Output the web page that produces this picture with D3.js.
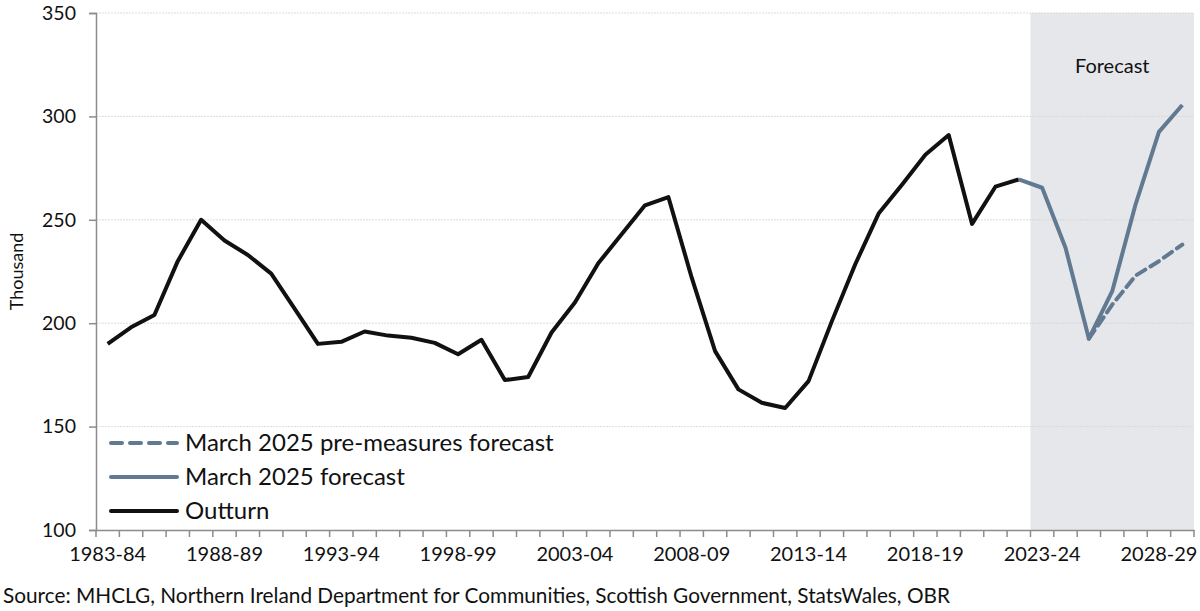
<!DOCTYPE html>
<html>
<head>
<meta charset="utf-8">
<script src="https://cdn.jsdelivr.net/npm/d3@7"></script>
<style>
  body { margin: 0; background: #fff; }
  text { font-family: Lato, "Noto Sans", sans-serif; fill: #111; }
</style>
</head>
<body>
<script>
const years = ["1983-84","1984-85","1985-86","1986-87","1987-88","1988-89","1989-90","1990-91",
  "1991-92","1992-93","1993-94","1994-95","1995-96","1996-97","1997-98","1998-99","1999-00",
  "2000-01","2001-02","2002-03","2003-04","2004-05","2005-06","2006-07","2007-08","2008-09",
  "2009-10","2010-11","2011-12","2012-13","2013-14","2014-15","2015-16","2016-17","2017-18",
  "2018-19","2019-20","2020-21","2021-22","2022-23","2023-24","2024-25","2025-26","2026-27",
  "2027-28","2028-29","2029-30"];
const tickLabels = ["1983-84","1988-89","1993-94","1998-99","2003-04","2008-09","2013-14","2018-19","2023-24","2028-29"];
const yTicks = [100, 150, 200, 250, 300, 350];

// outturn 1983-84 to 2022-23
const outturn = [190,198,204,230,250,240,233,224,207,190,191,196,194,193,190.5,185,192,172.5,174,195.5,
  210,229,243,257,261,222,186.5,168,161.5,159,172,201,228.5,253,267,281.5,291,248,266,269.5];
// forecasts 2022-23 to 2029-30
const forecastYears = ["2022-23","2023-24","2024-25","2025-26","2026-27","2027-28","2028-29","2029-30"];
const forecast = [269.5,265.5,236.5,192.5,215.5,257.5,292.5,305.5];
const preMeasures = [269.5,265.5,236.5,192.5,209,223,230,238];
const forecastStart = "2023-24";

const width = 1200, height = 611;
const mLeft = 96, mRight = 1194, mTop = 13, mBottom = 530;
const blue = "#627a91";

const svg = d3.select("body").append("svg")
  .attr("width", width).attr("height", height);

const x = d3.scaleBand().domain(years).range([mLeft, mRight]);
const y = d3.scaleLinear().domain([100, 350]).range([mBottom, mTop]);
const cx = d => x(d) + x.bandwidth() / 2;

// forecast shading
svg.append("rect")
  .attr("x", x(forecastStart)).attr("y", mTop)
  .attr("width", mRight - x(forecastStart)).attr("height", mBottom - mTop)
  .attr("fill", "#e6e7eb");

// gridlines
svg.append("g").selectAll("line")
  .data(yTicks.filter(d => d > 100))
  .join("line")
  .attr("x1", mLeft).attr("x2", mRight)
  .attr("y1", d => y(d)).attr("y2", d => y(d))
  .attr("stroke", "#d4d4d4").attr("stroke-width", 0.8)
  .attr("stroke-dasharray", "2,1");

svg.append("text")
  .attr("x", x(forecastStart) + (mRight - x(forecastStart)) / 2).attr("y", 73)
  .attr("text-anchor", "middle").attr("font-size", 20)
  .text("Forecast");

// axes
const yAxis = svg.append("g")
  .attr("transform", `translate(${mLeft},0)`)
  .call(d3.axisLeft(y).tickValues(yTicks).tickSize(7).tickPadding(13));
yAxis.select(".domain").attr("stroke", "#8c8c8c").attr("stroke-width", 1.5);
yAxis.selectAll(".tick line").attr("stroke", "#8c8c8c").attr("stroke-width", 1.5);
yAxis.selectAll(".tick text").attr("font-size", 19.5).attr("font-family", "Lato, sans-serif").attr("fill", "#111");

const xAxis = svg.append("g")
  .attr("transform", `translate(0,${mBottom})`)
  .call(d3.axisBottom(x).tickSize(0).tickFormat(d => tickLabels.includes(d) ? d : ""));
xAxis.select(".domain").attr("stroke", "#8c8c8c").attr("stroke-width", 1.5);
xAxis.selectAll(".tick text").attr("font-size", 20).attr("font-family", "Lato, sans-serif")
  .attr("fill", "#111").attr("dy", "1.4em");
// tick marks on category boundaries
svg.append("g").selectAll("line")
  .data(years.map(d => x(d)).concat([mRight]))
  .join("line")
  .attr("x1", d => d).attr("x2", d => d)
  .attr("y1", mBottom).attr("y2", mBottom + 7)
  .attr("stroke", "#8c8c8c").attr("stroke-width", 1.5);

svg.append("text")
  .attr("transform", `translate(23,${(mTop + mBottom) / 2}) rotate(-90)`)
  .attr("text-anchor", "middle").attr("font-size", 18)
  .text("Thousand");

// lines
const line = d3.line().x(d => cx(d[0])).y(d => y(d[1]));

svg.append("path")
  .datum(years.slice(0, outturn.length).map((d, i) => [d, outturn[i]]))
  .attr("d", line).attr("fill", "none")
  .attr("stroke", "#111").attr("stroke-width", 4).attr("stroke-linejoin", "round");

svg.append("path")
  .datum(forecastYears.map((d, i) => [d, forecast[i]]))
  .attr("d", line).attr("fill", "none")
  .attr("stroke", blue).attr("stroke-width", 4).attr("stroke-linejoin", "round");

svg.append("path")
  .datum(forecastYears.map((d, i) => [d, preMeasures[i]]).slice(3))
  .attr("d", line).attr("fill", "none")
  .attr("stroke", blue).attr("stroke-width", 4).attr("stroke-dasharray", "10,6")
  .attr("stroke-linecap", "round");

// legend
const legend = [
  { label: "March 2025 pre-measures forecast", color: blue, dash: "11,8" },
  { label: "March 2025 forecast", color: blue, dash: null },
  { label: "Outturn", color: "#111", dash: null }
];
const lg = svg.append("g").selectAll("g").data(legend).join("g")
  .attr("transform", (d, i) => `translate(111,${443 + i * 34})`);
lg.append("line")
  .attr("x1", 0).attr("x2", 66)
  .attr("stroke", d => d.color).attr("stroke-width", 4)
  .attr("stroke-linecap", "round")
  .attr("stroke-dasharray", d => d.dash);
lg.append("text")
  .attr("x", 74).attr("dy", "0.35em").attr("font-size", 24)
  .text(d => d.label);

svg.append("text")
  .attr("x", 3).attr("y", 603).attr("font-size", 20.8)
  .text("Source: MHCLG, Northern Ireland Department for Communities, Scottish Government, StatsWales, OBR");
</script>
</body>
</html>
